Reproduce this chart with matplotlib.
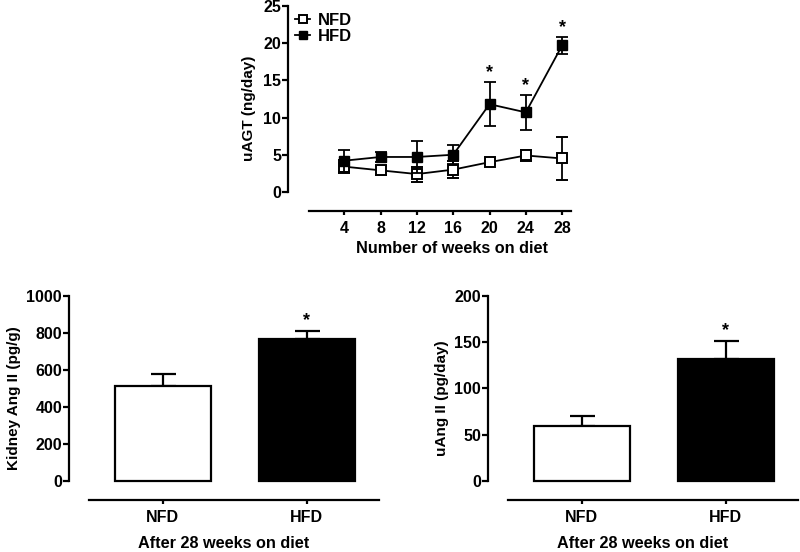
import numpy as np
import matplotlib
matplotlib.use('Agg')
from matplotlib import pyplot as plt
from matplotlib.lines import Line2D

plt.rcParams['font.family'] = ['Liberation Sans', 'DejaVu Sans']
plt.rcParams['font.weight'] = 'bold'
plt.rcParams['axes.labelweight'] = 'bold'

# uAGT time course
weeks = [4, 8, 12, 16, 20, 24, 28]
nfd_uagt = [3.4, 2.9, 2.4, 3.0, 4.0, 4.9, 4.5]
nfd_uagt_err = [0.9, 0.6, 1.0, 1.1, 0.2, 0.7, 2.9]
hfd_uagt = [4.2, 4.7, 4.7, 5.0, 11.8, 10.7, 19.7]
hfd_uagt_err = [1.5, 0.7, 2.2, 1.3, 3.0, 2.4, 1.2]
star_weeks = [20, 24, 28]

# bar panels
groups = ['NFD', 'HFD']
kidney_ang = [515, 765]
kidney_ang_err = [62, 46]
uang = [59, 131.5]
uang_err = [11.5, 20]

lw = 1.6
tfs = 11.5   # tick labels
xfs = 11.7   # x labels
yfs = 11     # y labels


def prism_axes(ax):
    ax.spines['top'].set_visible(False)
    ax.spines['right'].set_visible(False)
    for s in ['left', 'bottom']:
        ax.spines[s].set_linewidth(lw)
    ax.tick_params(axis='y', width=lw, length=4, labelsize=tfs, pad=1)
    ax.tick_params(axis='x', width=lw, length=3, labelsize=tfs, pad=4)
    for lab in ax.get_xticklabels() + ax.get_yticklabels():
        lab.set_fontweight('bold')


fig = plt.figure(figsize=(8, 5.52), dpi=100)

# --- top panel ---
ax = fig.add_axes([0.36, 0.618, 0.354, 0.371])
ax.errorbar(weeks, nfd_uagt, yerr=nfd_uagt_err, color='black', lw=1.3,
            marker='s', ms=7, mfc='white', mec='black', mew=1.4,
            capsize=4, elinewidth=1.3, capthick=1.3, zorder=3)
ax.errorbar(weeks, hfd_uagt, yerr=hfd_uagt_err, color='black', lw=1.3,
            marker='s', ms=7, mfc='black', mec='black',
            capsize=4, elinewidth=1.3, capthick=1.3, zorder=4)
for w in star_weeks:
    i = weeks.index(w)
    ax.text(w, hfd_uagt[i] + hfd_uagt_err[i] + 0.1, '*', ha='center', va='bottom',
            fontsize=13, fontweight='bold')
ax.set_xlim(-2.2, 29)
ax.set_ylim(-2.55, 25)
ax.spines['left'].set_bounds(0, 25)
ax.spines['bottom'].set_bounds(0.1, 29)
ax.set_xticks(weeks)
ax.set_yticks([0, 5, 10, 15, 20, 25])
ax.set_xlabel('Number of weeks on diet', fontsize=xfs)
ax.xaxis.set_label_coords(0.58, -0.145)
ax.set_ylabel('uAGT (ng/day)', fontsize=yfs, labelpad=5)
prism_axes(ax)
handles = [
    Line2D([], [], color='black', lw=1.3, marker='s', ms=6, mfc='white', mec='black', mew=1.4),
    Line2D([], [], color='black', lw=1.3, marker='s', ms=6, mfc='black', mec='black'),
]
ax.legend(handles, ['NFD', 'HFD'], loc='upper left', bbox_to_anchor=(-0.01, 1.015),
          frameon=False, fontsize=12, handlelength=0.9, handletextpad=0.45,
          labelspacing=0.05, borderaxespad=0.2)


def bar_panel(rect, vals, errs, ymax, step, ylabel):
    a = fig.add_axes(rect)
    x = np.arange(len(groups))
    a.bar(x, vals, width=0.667, color=['white', 'black'], edgecolor='black',
          linewidth=lw, zorder=2)
    a.errorbar(x, vals, yerr=[[0, 0], errs], fmt='none', ecolor='black',
               elinewidth=lw, capsize=9, capthick=lw, zorder=1)
    a.text(1, vals[1] + errs[1] + ymax * 0.01, '*', ha='center', va='bottom',
           fontsize=13, fontweight='bold')
    a.set_xlim(-0.65, 1.5)
    a.set_ylim(-ymax * 0.103, ymax)
    a.spines['left'].set_bounds(0, ymax)
    a.spines['bottom'].set_bounds(-0.51, 1.5)
    a.set_xticks(x)
    a.set_xticklabels(groups)
    a.set_yticks(np.arange(0, ymax + 1, step))
    a.set_xlabel('After 28 weeks on diet', fontsize=xfs, labelpad=8)
    a.set_ylabel(ylabel, fontsize=yfs, labelpad=4)
    prism_axes(a)
    return a


bar_panel([0.08625, 0.0942, 0.3875, 0.3696], kidney_ang, kidney_ang_err, 1000, 200,
          'Kidney Ang II (pg/g)')
bar_panel([0.61, 0.0942, 0.3875, 0.3696], uang, uang_err, 200, 50,
          'uAng II (pg/day)')

fig.savefig('out.png', dpi=100)
